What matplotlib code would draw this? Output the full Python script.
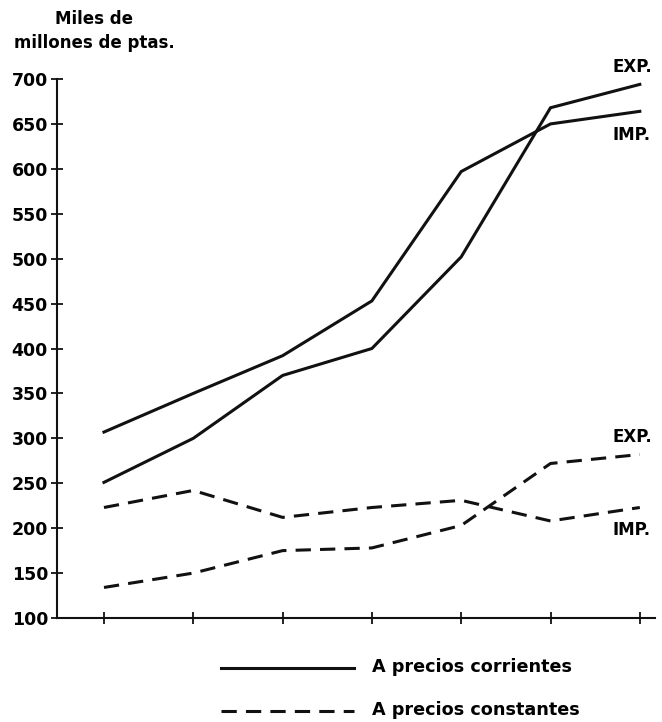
import matplotlib
matplotlib.use("Agg")
import matplotlib.pyplot as plt
from matplotlib.lines import Line2D

plt.rcParams['font.family'] = ['DejaVu Sans']
plt.rcParams['font.weight'] = 'bold'

# Data (miles de millones de ptas.)
years = [0, 1, 2, 3, 4, 5, 6]
exp_corrientes = [251, 300, 370, 400, 502, 668, 694]
imp_corrientes = [307, 350, 392, 453, 597, 650, 664]
exp_constantes = [134, 150, 175, 178, 203, 272, 282]
imp_constantes = [223, 242, 212, 223, 231, 208, 223]
y_ticks = [100, 150, 200, 250, 300, 350, 400, 450, 500, 550, 600, 650, 700]

W, H = 662, 722
fig = plt.figure(figsize=(6.62, 7.22), dpi=100)
ax = fig.add_axes([57 / W, 1 - 618 / H, 598 / W, 539 / H])

lw = 2.2
dash = (0, (5, 3.0))
ax.plot(years, exp_corrientes, color='#111111', lw=lw, solid_joinstyle='miter')
ax.plot(years, imp_corrientes, color='#111111', lw=lw, solid_joinstyle='miter')
ax.plot(years, exp_constantes, color='#111111', lw=lw, linestyle=dash)
ax.plot(years, imp_constantes, color='#111111', lw=lw, linestyle=dash)

ax.set_xlim(-0.526, 6.17)
ax.set_ylim(100, 700)
ax.set_yticks(y_ticks)
ax.set_xticks(years)
ax.set_xticklabels([])
for s in ['top', 'right']:
    ax.spines[s].set_visible(False)
for s in ['left', 'bottom']:
    ax.spines[s].set_linewidth(1.5)
    ax.spines[s].set_color('#111111')
ax.tick_params(axis='both', direction='inout', length=9, width=1.3, color='#111111')
ax.tick_params(axis='y', labelsize=12.5, pad=2)
for t in ax.get_yticklabels():
    t.set_fontweight('bold')

# Series labels (placed in pixel positions of the figure)
def label(x, y, s):
    fig.text(x / W, 1 - y / H, s, fontsize=12, fontweight='bold', ha='left', va='center')

label(612, 67, 'EXP.')
label(612, 135, 'IMP.')
label(612, 437, 'EXP.')
label(612, 530, 'IMP.')

# Unit title
fig.text(94 / W, 1 - 10 / H, 'Miles de\nmillones de ptas.', fontsize=12,
         fontweight='bold', ha='center', va='top', linespacing=1.45)

# Legend
fig.add_artist(Line2D([221 / W, 354 / W], [1 - 668 / H] * 2, color='#111111', lw=lw))
fig.add_artist(Line2D([221 / W, 354 / W], [1 - 711 / H] * 2, color='#111111', lw=lw,
                      linestyle=dash))
fig.text(372 / W, 1 - 667 / H, 'A precios corrientes', fontsize=12.7,
         fontweight='bold', ha='left', va='center')
fig.text(372 / W, 1 - 710 / H, 'A precios constantes', fontsize=12.7,
         fontweight='bold', ha='left', va='center')

fig.savefig('out.png', dpi=100)
